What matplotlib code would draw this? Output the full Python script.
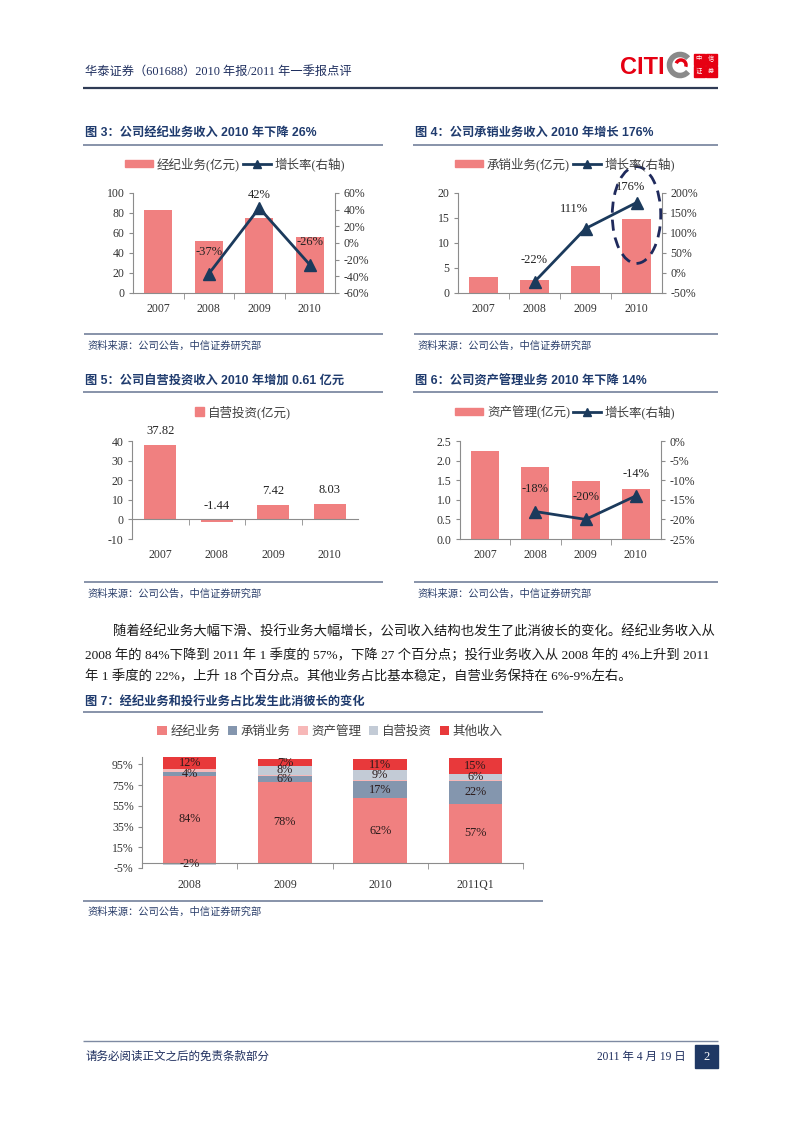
import matplotlib
matplotlib.use("Agg")

import matplotlib.pyplot as plt
from matplotlib.patches import Rectangle, Ellipse, Arc, Patch
from matplotlib.lines import Line2D
import numpy as np

W, H = 802, 1133

SERIF = ['Liberation Serif', 'Noto Sans CJK SC']
SANS = ['Liberation Sans', 'Noto Sans CJK SC']

# ---- data ----
years = ['2007', '2008', '2009', '2010']
brokerage = [83, 52, 74.5, 56]            # 经纪业务(亿元)
brokerage_growth = [-37, 42, -26]         # 2008-2010, %
underwriting = [3.2, 2.6, 5.4, 14.7]      # 承销业务(亿元)
underwriting_growth = [-22, 111, 176]
proprietary = [37.82, -1.44, 7.42, 8.03]  # 自营投资(亿元)
asset_mgmt = [2.25, 1.83, 1.48, 1.28]     # 资产管理(亿元)
asset_mgmt_growth = [-18, -20, -14]

mix_periods = ['2008', '2009', '2010', '2011Q1']
mix_names = ['经纪业务', '承销业务', '资产管理', '自营投资', '其他收入']
mix_brokerage = [84, 78, 62, 57]
mix_underwriting = [4, 6, 17, 22]
mix_asset_mgmt = [2, 1, 1, 1]
mix_proprietary = [-2, 8, 9, 6]
mix_other = [12, 7, 11, 15]

# ---- colours ----
BAR = '#F08080'
LINE = '#1B3A5C'
NAVY = '#1F3B6E'
RULE = '#7E8AA2'
AXC = '#8C8C8C'
TXT = '#333333'
MIX_COLORS = ['#F08080', '#8496AE', '#F7B8B8', '#C3CBD6', '#E8393B']

fig = plt.figure(figsize=(W / 100, H / 100), dpi=100)
fig.patch.set_facecolor('white')

# page overlay in pixel coordinates
page = fig.add_axes([0, 0, 1, 1])
page.set_xlim(0, W)
page.set_ylim(H, 0)
page.axis('off')


def px_ax(x0, y0, x1, y1):
    a = fig.add_axes([x0 / W, 1 - y1 / H, (x1 - x0) / W, (y1 - y0) / H])
    a.set_facecolor('none')
    return a


def rule(x0, x1, y, lw=1.3, color=RULE):
    page.plot([x0, x1], [y, y], color=color, lw=lw, solid_capstyle='butt')


def chart_title(x, y, s):
    page.text(x, y, s, family=SANS, weight='bold', size=8.8, color=NAVY, va='center')


def source(x, y):
    page.text(x, y, '资料来源：公司公告，中信证券研究部', family=SERIF, style='italic',
              size=7.4, color='#2B3F6B', va='center')


def base_style(a, n):
    a.spines['top'].set_visible(False)
    a.spines['right'].set_visible(False)
    for s in ['left', 'bottom']:
        a.spines[s].set_color(AXC)
        a.spines[s].set_linewidth(0.8)
    a.set_xlim(-0.5, n - 0.5)
    a.set_xticks(range(n))
    a.set_xticks(np.arange(0.5, n - 1), minor=True)
    a.tick_params(axis='x', which='major', length=0, pad=7, labelsize=8.5, labelcolor=TXT)
    a.tick_params(axis='x', which='minor', length=4, color=AXC, direction='out')
    a.tick_params(axis='y', length=3, color=AXC, labelsize=8.5, labelcolor=TXT, pad=3)
    for lab in a.get_xticklabels() + a.get_yticklabels():
        lab.set_family(SERIF)


def right_style(a2, ticks, fmt):
    a2.spines['top'].set_visible(False)
    a2.spines['left'].set_visible(False)
    a2.spines['bottom'].set_visible(False)
    a2.spines['right'].set_color(AXC)
    a2.spines['right'].set_linewidth(0.8)
    a2.set_yticks(ticks)
    a2.set_yticklabels([fmt(t) for t in ticks], family=SERIF)
    a2.tick_params(axis='y', length=3, color=AXC, labelsize=8.5, labelcolor=TXT, pad=3)


def legend(a, handles, labels, cx, cy, **kw):
    opts = dict(loc='center', bbox_to_anchor=(cx / W, 1 - cy / H), bbox_transform=fig.transFigure,
                frameon=False, prop={'family': SERIF, 'size': 9}, labelcolor='#404040',
                handletextpad=0.3, columnspacing=0.2, borderaxespad=0)
    opts.update(kw)
    a.legend(handles, labels, **opts)


def growth_chart(box, values, growth, ylim, yticks, rlim, rticks, name, leg_cx, offsets):
    a = px_ax(*box)
    x = np.arange(len(years))
    a.bar(x, values, width=0.56, color=BAR, zorder=2)
    base_style(a, len(years))
    a.set_xticklabels(years, family=SERIF)
    a.set_ylim(*ylim)
    a.set_yticks(yticks)
    a.set_yticklabels([f'{t:g}' if not isinstance(t, float) else f'{t:.1f}' for t in yticks], family=SERIF)
    a2 = a.twinx()
    a2.set_ylim(*rlim)
    right_style(a2, rticks, lambda t: f'{t}%')
    gx = x[1:]
    a2.plot(gx, growth, color=LINE, lw=2, marker='^', ms=9, zorder=3, clip_on=False)
    for xi, g, (dx, dy) in zip(gx, growth, offsets):
        a2.annotate(f'{g}%', (xi, g), xytext=(dx, dy), textcoords='offset points',
                    ha='center', va='center', family=SERIF, size=9, color='#222222')
    handles = [Patch(color=BAR), Line2D([], [], color=LINE, lw=2, marker='^', ms=6)]
    legend(a2, handles, [name, '增长率(右轴)'], leg_cx, 164 if box[1] < 300 else 412,
           ncol=2, handlelength=2.3, handleheight=0.55)
    return a, a2


# ---------------- header ----------------
page.text(85, 72, '华泰证券（601688）2010 年报/2011 年一季报点评', family=SERIF, size=8.8,
          color='#1F2F5F', va='center')
rule(83, 718, 88, lw=1.6, color='#2F3B55')
page.text(620, 67, 'CITI', family=['Liberation Sans'], weight='bold', size=17,
          color='#E60012', va='center', ha='left')
page.add_patch(Arc((680, 65), 21, 21, theta1=40, theta2=320, lw=4, color='#8A8A8A'))
page.add_patch(Arc((681, 65), 10, 10, theta1=200, theta2=380, lw=2.5, color='#E60012'))
for i, ch in enumerate('中信证券'):
    cx = 699 + (i % 2) * 12
    cy = 59 + (i // 2) * 12
    page.add_patch(Rectangle((cx - 5.5, cy - 5.5), 11, 11, color='#E60012'))
    page.text(cx, cy, ch, family=SANS, size=4.5, color='white', ha='center', va='center')

# ---------------- figure 3 ----------------
chart_title(85, 133, '图 3：公司经纪业务收入 2010 年下降 26%')
rule(83, 383, 145)
growth_chart((133, 193, 335, 293), brokerage, brokerage_growth, (0, 100), range(0, 101, 20),
             (-60, 60), range(-60, 61, 20), '经纪业务(亿元)', 235,
             [(0, 16), (0, 9), (0, 16)])
rule(84, 383, 334)
source(87, 346)

# ---------------- figure 4 ----------------
chart_title(415, 133, '图 4：公司承销业务收入 2010 年增长 176%')
rule(413, 718, 145)
a4, a4r = growth_chart((458, 193, 662, 293), underwriting, underwriting_growth, (0, 20),
                       range(0, 21, 5), (-50, 200), range(-50, 201, 50), '承销业务(亿元)', 565,
                       [(0, 16), (-8, 14), (-4, 11)])
a4r.add_patch(Ellipse((len(years) - 1, underwriting_growth[-1] - 31), 0.95, 242,
                      fill=False, ls=(0, (4, 2.5)), lw=2, color='#1F2A5C', clip_on=False, zorder=4))
rule(414, 718, 334)
source(417, 346)

# ---------------- figure 5 ----------------
chart_title(85, 381, '图 5：公司自营投资收入 2010 年增加 0.61 亿元')
rule(83, 383, 392)
a5 = px_ax(132, 441, 358, 539)
x = np.arange(len(years))
bars5 = a5.bar(x, proprietary, width=0.56, color=BAR, zorder=2)
base_style(a5, len(years))
a5.spines['bottom'].set_position(('data', 0))
a5.set_ylim(-10, 40)
a5.set_yticks(range(-10, 41, 10))
a5.set_yticklabels([str(t) for t in range(-10, 41, 10)], family=SERIF)
a5.set_xticklabels(years, family=SERIF)
a5.tick_params(axis='x', which='major', pad=21)
for xi, v in zip(x, proprietary):
    a5.annotate(f'{v:.2f}', (xi, max(v, 0)), xytext=(0, 10), textcoords='offset points',
                ha='center', va='center', family=SERIF, size=9, color='#222222')
legend(a5, [Patch(color=BAR)], ['自营投资(亿元)'], 243, 412, handlelength=0.7, handleheight=0.7)
rule(84, 383, 582)
source(87, 594)

# ---------------- figure 6 ----------------
chart_title(415, 381, '图 6：公司资产管理业务 2010 年下降 14%')
rule(413, 718, 392)
a6, a6r = growth_chart((460, 441, 661, 539), asset_mgmt, asset_mgmt_growth, (0, 2.5),
                       [0.0, 0.5, 1.0, 1.5, 2.0, 2.5], (-25, 0), range(-25, 1, 5), '资产管理(亿元)', 565,
                       [(0, 16), (0, 16), (0, 16)])
rule(414, 718, 582)
source(417, 594)

# ---------------- body text ----------------
body = [
    (113, 632, '随着经纪业务大幅下滑、投行业务大幅增长，公司收入结构也发生了此消彼长的变化。经纪业务收入从'),
    (85, 655, '2008 年的 84%下降到 2011 年 1 季度的 57%，下降 27 个百分点；投行业务收入从 2008 年的 4%上升到 2011'),
    (85, 677, '年 1 季度的 22%，上升 18 个百分点。其他业务占比基本稳定，自营业务保持在 6%-9%左右。'),
]
for bx, by, s in body:
    page.text(bx, by, s, family=SERIF, size=9.6, color='#1A1A1A', va='center')

# ---------------- figure 7 ----------------
chart_title(85, 702, '图 7：经纪业务和投行业务占比发生此消彼长的变化')
rule(83, 543, 712)
a7 = px_ax(142, 757, 523, 868)
xm = np.arange(len(mix_periods))
series = [mix_brokerage, mix_underwriting, mix_asset_mgmt, mix_proprietary, mix_other]
pos_base = np.zeros(len(mix_periods))
neg_base = np.zeros(len(mix_periods))
for name, vals, col in zip(mix_names, series, MIX_COLORS):
    vals = np.array(vals, dtype=float)
    bottom = np.where(vals >= 0, pos_base, neg_base)
    cont = a7.bar(xm, vals, bottom=bottom, width=0.56, color=col, label=name, zorder=2)
    pos_base = pos_base + np.where(vals >= 0, vals, 0)
    neg_base = neg_base + np.where(vals < 0, vals, 0)
    if name != '资产管理':
        a7.bar_label(cont, labels=[f'{int(v)}%' for v in vals], label_type='center',
                     family=SERIF, size=8.8, color='#2A1A1A')
base_style(a7, len(mix_periods))
a7.spines['bottom'].set_position(('data', 0))
a7.set_ylim(-5, 102)
a7.set_yticks(range(-5, 96, 20))
a7.set_yticklabels([f'{t}%' for t in range(-5, 96, 20)], family=SERIF)
a7.set_xticklabels(mix_periods, family=SERIF)
a7.set_xticks(np.arange(0.5, len(mix_periods)), minor=True)
a7.tick_params(axis='x', which='major', pad=12)
legend(a7, *a7.get_legend_handles_labels(), 330, 732, ncol=5, handlelength=0.75,
       handleheight=0.75, columnspacing=0.6)
rule(83, 543, 901)
source(87, 912)

# ---------------- footer ----------------
rule(83, 718, 1041, lw=1.0)
page.text(85, 1057, '请务必阅读正文之后的免责条款部分', family=SERIF, size=8.3, color='#1F2F5F', va='center')
page.text(686, 1057, '2011 年 4 月 19 日', family=SERIF, size=8.3, color='#1F2F5F', va='center', ha='right')
page.add_patch(Rectangle((695, 1045), 23, 23, color='#1F3864'))
page.text(706.5, 1056.5, '2', family=SERIF, size=9, color='white', ha='center', va='center')

fig.savefig('out.png', dpi=100)
